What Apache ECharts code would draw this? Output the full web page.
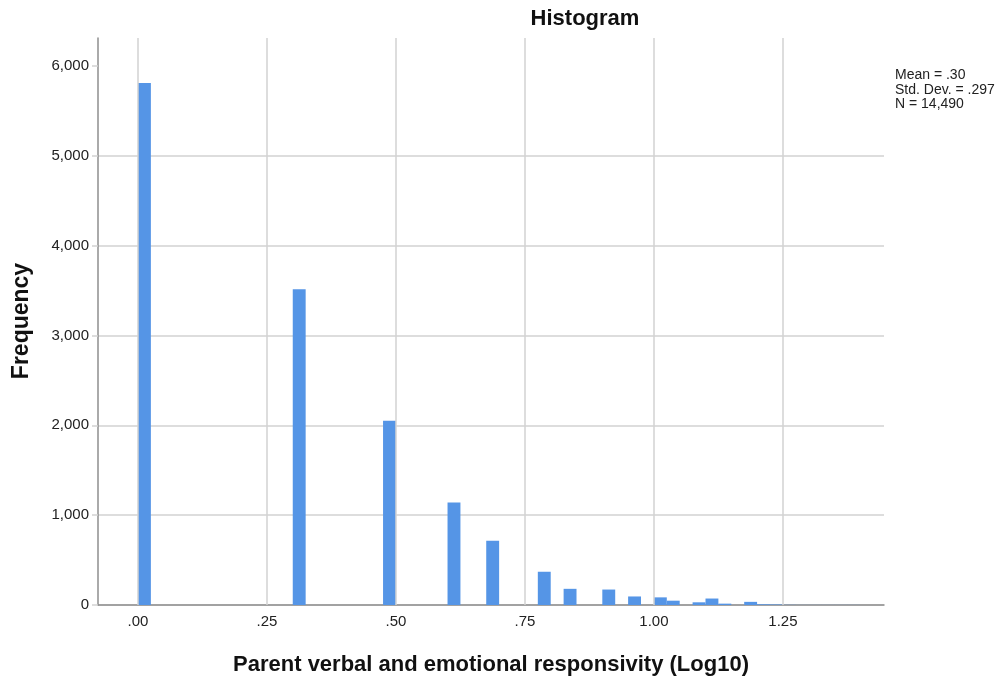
<!DOCTYPE html>
<html>
<head>
<meta charset="utf-8">
<title>Histogram</title>
<script src="https://cdn.jsdelivr.net/npm/echarts@6/dist/echarts.min.js"></script>
<style>
  html, body { margin: 0; padding: 0; background: #ffffff; }
  #chart { width: 1006px; height: 681px; }
</style>
</head>
<body>
<div id="chart"></div>
<script>
// Histogram bins: lower edge of each bin and its frequency
const BIN_WIDTH = 0.025;
const binStarts = [0.000, 0.300, 0.475, 0.600, 0.675, 0.775, 0.825, 0.900, 0.950,
                   1.000, 1.025, 1.075, 1.100, 1.125, 1.175, 1.200, 1.225,
                   1.250, 1.275, 1.300, 1.325, 1.350, 1.375];
const frequencies = [5810, 3515, 2050, 1140, 715, 370, 180, 172, 95,
                     85, 48, 30, 72, 15, 35, 8, 6,
                     2, 1, 1, 1, 1, 1];

// Axis ticks
const xTickValues = [0, 0.25, 0.5, 0.75, 1.0, 1.25];
const xTickLabels = ['.00', '.25', '.50', '.75', '1.00', '1.25'];
const yTickValues = [0, 1000, 2000, 3000, 4000, 5000, 6000];

// Summary statistics
const statLines = ['Mean = .30', 'Std. Dev. = .297', 'N = 14,490'];

const FONT = '"Liberation Sans", Arial, sans-serif';
const GRID_COLOR = '#d2d2d2';
const AXIS_COLOR = '#8e8e8e';
const BAR_COLOR = '#5595e6';

const chart = echarts.init(document.getElementById('chart'), null, { renderer: 'canvas' });

const binData = binStarts.map((s, i) => [s, frequencies[i]]);

const option = {
  backgroundColor: '#ffffff',
  animation: false,
  textStyle: { fontFamily: FONT },
  grid: { left: 98, right: 122, top: 38, bottom: 76, containLabel: false },
  xAxis: {
    type: 'value',
    min: -0.0775,
    max: 1.446,
    axisLine: { show: true, onZero: false, lineStyle: { color: AXIS_COLOR, width: 1.5 } },
    axisTick: { show: false },
    splitLine: { show: false },
    axisLabel: {
      customValues: xTickValues,
      formatter: v => {
        const i = xTickValues.findIndex(t => Math.abs(t - v) < 1e-9);
        return i >= 0 ? xTickLabels[i] : '';
      },
      color: '#222',
      fontSize: 15,
      fontFamily: FONT,
      margin: 9
    }
  },
  yAxis: {
    type: 'value',
    min: 0,
    max: 6310,
    interval: 1000,
    axisLine: { show: true, onZero: false, lineStyle: { color: AXIS_COLOR, width: 1.5 } },
    axisTick: {
      show: true,
      customValues: yTickValues,
      length: 6,
      lineStyle: { color: GRID_COLOR, width: 1.5 }
    },
    splitLine: { show: true, showMaxLine: false, lineStyle: { color: GRID_COLOR, width: 1.5 } },
    axisLabel: {
      customValues: yTickValues,
      formatter: v => v.toLocaleString('en-US'),
      color: '#222',
      fontSize: 15,
      fontFamily: FONT,
      margin: 9
    }
  },
  series: [
    {
      // vertical grid lines at the labelled x positions
      type: 'line',
      data: [],
      silent: true,
      z: 1,
      markLine: {
        silent: true,
        symbol: ['none', 'none'],
        label: { show: false },
        lineStyle: { color: GRID_COLOR, width: 1.5, type: 'solid' },
        emphasis: { disabled: true },
        data: xTickValues.map(v => ({ xAxis: v }))
      }
    },
    {
      type: 'custom',
      z: 3,
      data: binData,
      renderItem: (params, api) => {
        const x0 = api.value(0);
        const n = api.value(1);
        const pTop = api.coord([x0, n]);
        const pBase = api.coord([x0 + BIN_WIDTH, 0]);
        return {
          type: 'rect',
          shape: {
            x: pTop[0],
            y: pTop[1],
            width: pBase[0] - pTop[0],
            height: pBase[1] - pTop[1]
          },
          style: { fill: BAR_COLOR }
        };
      }
    }
  ],
  graphic: [
    {
      type: 'text',
      x: 585,
      y: 19,
      style: {
        text: 'Histogram',
        font: 'bold 22px ' + FONT,
        fill: '#111',
        align: 'center',
        verticalAlign: 'middle'
      }
    },
    {
      type: 'text',
      x: 22,
      y: 321,
      rotation: Math.PI / 2,
      style: {
        text: 'Frequency',
        font: 'bold 23px ' + FONT,
        fill: '#111',
        align: 'center',
        verticalAlign: 'middle'
      }
    },
    {
      type: 'text',
      x: 491,
      y: 665,
      style: {
        text: 'Parent verbal and emotional responsivity (Log10)',
        font: 'bold 22px ' + FONT,
        fill: '#111',
        align: 'center',
        verticalAlign: 'middle'
      }
    },
    {
      type: 'text',
      x: 895,
      y: 68,
      style: {
        text: statLines.join('\n'),
        font: '14px ' + FONT,
        lineHeight: 14.5,
        fill: '#222',
        align: 'left',
        verticalAlign: 'top'
      }
    }
  ]
};

chart.setOption(option);
</script>
</body>
</html>
